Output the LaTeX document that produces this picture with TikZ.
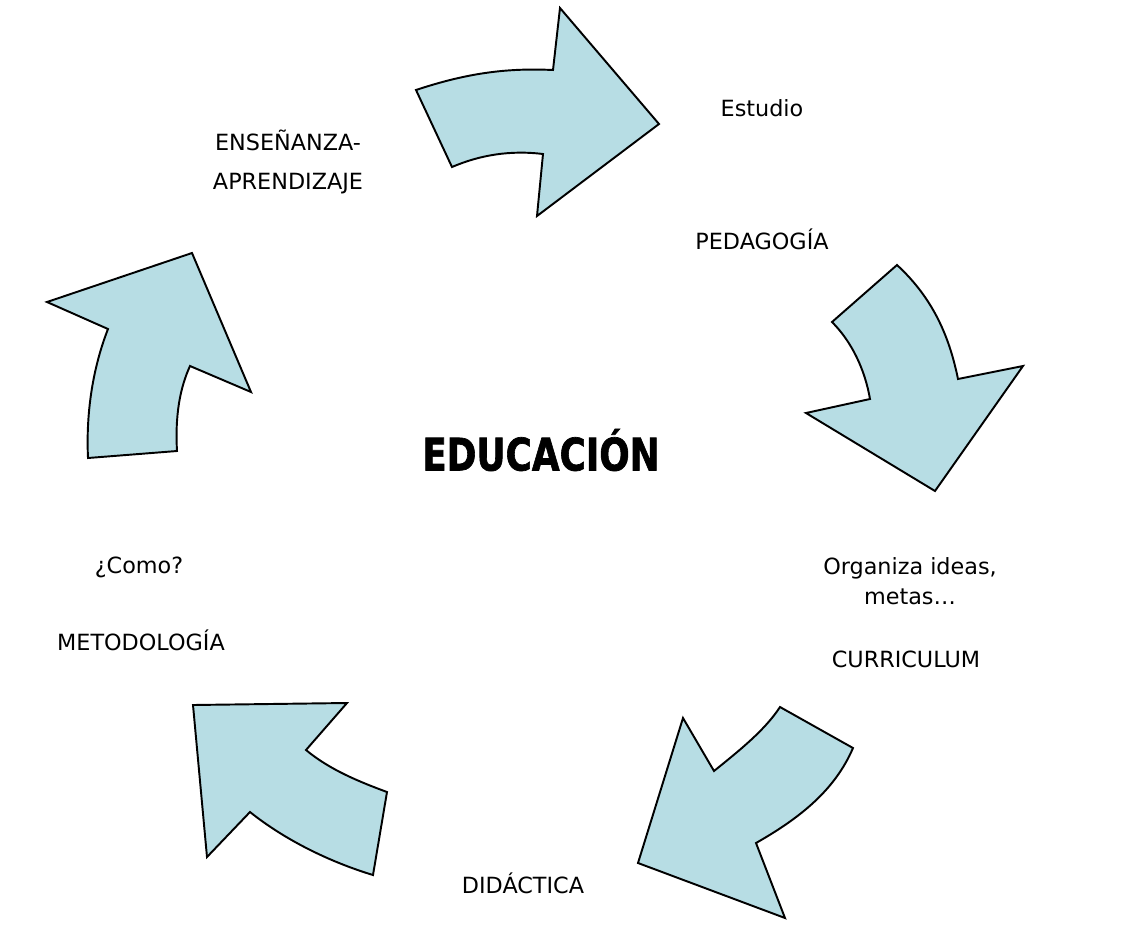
\documentclass[tikz,border=0pt]{standalone}
\usepackage{fontspec}
\setmainfont{DejaVu Sans}
\newfontfamily\titlefont{DejaVu Sans}[BoldFeatures={FakeBold=1.6}]
\usepackage{xcolor}
\usetikzlibrary{positioning}

\definecolor{arrowfill}{RGB}{183,221,228}

\tikzset{
  bigarrow/.style={draw=black,fill=arrowfill,line width=1.1pt,line join=miter},
  lbl/.style={align=center,inner sep=1pt,font=\fontsize{12.7}{22}\selectfont},
  title/.style={inner sep=0pt,font=\titlefont\fontsize{25.5}{30}\selectfont\bfseries}
}

\begin{document}
\begin{tikzpicture}[x=0.02cm,y=-0.02cm]
  \useasboundingbox (0,0) rectangle (1127,931);

  % top arrow
  \path[bigarrow] (416,90) .. controls (470,72) and (510,68) .. (553,70)
    -- (560,8) -- (659,124) -- (537,216) -- (543,154)
    .. controls (510,150) and (480,155) .. (452,167) -- cycle;
  % right arrow
  \path[bigarrow] (832,322) -- (897,265) .. controls (935,300) and (950,340) .. (958,379)
    -- (1023,366) -- (935,491) -- (806,413) -- (870,399)
    .. controls (865,370) and (852,342) .. (832,322) -- cycle;
  % lower right arrow
  \path[bigarrow] (780,707) -- (853,748) .. controls (835,790) and (800,818) .. (756,843)
    -- (785,918) -- (638,863) -- (683,718) -- (714,771)
    .. controls (740,750) and (765,730) .. (780,707) -- cycle;
  % lower left arrow
  \path[bigarrow] (193,705) -- (347,703) -- (306,750)
    .. controls (330,770) and (360,782) .. (387,792) -- (373,875)
    .. controls (330,862) and (285,840) .. (250,812) -- (207,857) -- cycle;
  % left arrow
  \path[bigarrow] (88,458) -- (177,451) .. controls (175,415) and (180,388) .. (190,366)
    -- (251,392) -- (192,253) -- (47,302) -- (108,329)
    .. controls (92,370) and (86,415) .. (88,458) -- cycle;

  \node[title] (educacion) at (541,450) {\scalebox{0.8}[1]{EDUCACIÓN}};

  \node[lbl] (estudio) at (762,108) {Estudio};
  \node[lbl] (pedagogia) at (762,239) {PEDAGOGÍA};
  \node[lbl] (organiza) at (910,581) {Organiza ideas,\\[-5pt] metas…};
  \node[lbl] (curriculum) at (906,659) {CURRICULUM};
  \node[lbl] (didactica) at (523,883) {DIDÁCTICA};
  \node[lbl] (como) at (139,567) {¿Como?};
  \node[lbl] (metodologia) at (141,640) {METODOLOGÍA};
  \node[lbl] (ensenanza) at (288,162) {ENSEÑANZA-\\ APRENDIZAJE};
\end{tikzpicture}
\end{document}
